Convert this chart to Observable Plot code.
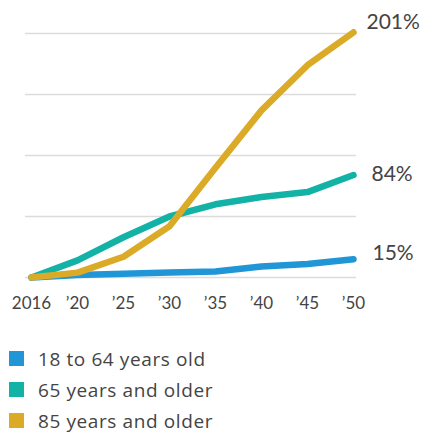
<!DOCTYPE html>
<html>
<head>
<meta charset="utf-8">
<script src="https://cdn.jsdelivr.net/npm/d3@7"></script>
<script src="https://cdn.jsdelivr.net/npm/@observablehq/plot@0.6"></script>
<style>
  html, body { margin: 0; padding: 0; background: #fff; }
  body { width: 422px; font-family: Lato, "Open Sans", sans-serif; color: #444; }
  #legend { padding-top: 13px; }
  .row { display: flex; align-items: center; height: 31px; font-size: 19px; letter-spacing: 0.6px; font-family: "Open Sans", Lato, sans-serif; }
  .sw { width: 15px; height: 15px; margin-left: 9px; margin-right: 14px; }
</style>
</head>
<body>
<div id="chart"></div>
<div id="legend"></div>
<script>
const years = [2016, 2020, 2025, 2030, 2035, 2040, 2045, 2050];
const tickLabels = ["2016", "’20", "’25", "’30", "’35", "’40", "’45", "’50"];
const seriesNames = ["18 to 64 years old", "65 years and older", "85 years and older"];
const colors = ["#2196d6", "#13b2a6", "#dbab27"];
const age18to64 = [0, 2, 3, 4, 5, 9, 11, 15];
const age65plus = [0, 14, 33, 50, 60, 66, 70, 84];
const age85plus = [0, 4, 17, 42, 90, 137, 174, 201];
const endLabels = ["15%", "84%", "201%"];
const gridValues = [0, 50, 100, 150, 200];

const seriesValues = [age18to64, age65plus, age85plus];
const data = [];
seriesNames.forEach((s, i) => years.forEach((y, j) => data.push({series: s, year: y, value: seriesValues[i][j]})));
const ends = seriesNames.map((s, i) => ({series: s, year: years[years.length - 1], value: seriesValues[i][years.length - 1], label: endLabels[i]}));

const W = 422, H = 330;
const chart = Plot.plot({
  width: W,
  height: H,
  marginLeft: 28,
  marginRight: 66,
  marginTop: 33,
  marginBottom: 53,
  style: {fontFamily: "Lato, 'Open Sans', sans-serif", color: "#444", background: "#fff", overflow: "visible"},
  x: {type: "point", domain: years, padding: 0, axis: null},
  y: {domain: [0, 200], axis: null},
  color: {domain: seriesNames, range: colors},
  marks: [
    Plot.ruleY(gridValues, {stroke: "#dcdcdc", strokeWidth: 1.3, insetLeft: -3}),
    Plot.line(data, {x: "year", y: "value", z: "series", stroke: "series", strokeWidth: 6.5, strokeLinecap: "round", strokeLinejoin: "round"}),
    Plot.axisX({tickSize: 0, tickPadding: 19, fontSize: 17, fill: "#444", label: null, tickFormat: (d, i) => tickLabels[i]}),
    Plot.text([ends[2]], {x: "year", y: "value", text: "label", textAnchor: "start", dx: 13, dy: -10, fontSize: 21, fill: "#444"}),
    Plot.text([ends[1]], {x: "year", y: "value", text: "label", textAnchor: "start", dx: 18, dy: -1, fontSize: 21, fill: "#444"}),
    Plot.text([ends[0]], {x: "year", y: "value", text: "label", textAnchor: "start", dx: 19, dy: -6, fontSize: 21, fill: "#444"})
  ]
});
document.getElementById("chart").appendChild(chart);

const legend = document.getElementById("legend");
seriesNames.forEach((s, i) => {
  const row = document.createElement("div");
  row.className = "row";
  const sw = document.createElement("span");
  sw.className = "sw";
  sw.style.background = colors[i];
  const t = document.createElement("span");
  t.textContent = s;
  row.appendChild(sw); row.appendChild(t);
  legend.appendChild(row);
});
</script>
</body>
</html>
